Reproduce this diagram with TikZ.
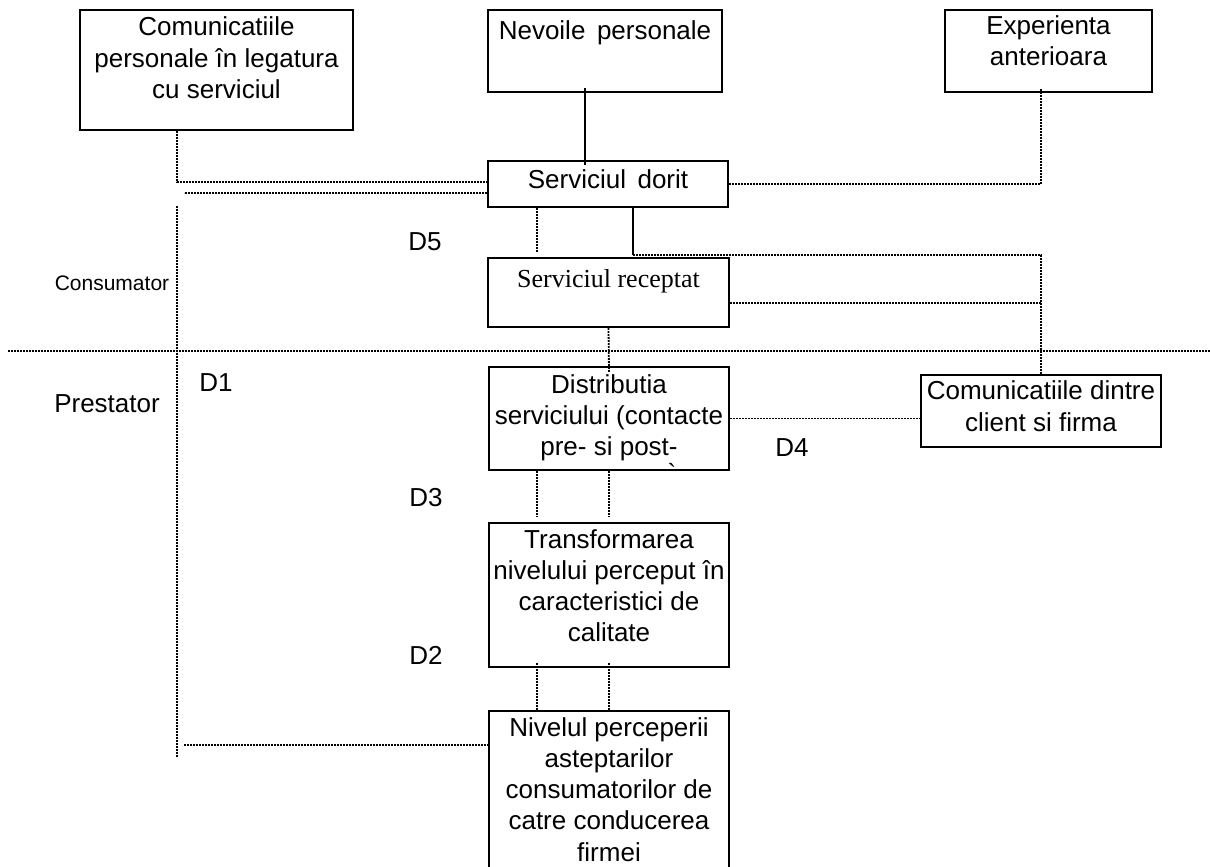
\documentclass[tikz,border=0pt]{standalone}
\usepackage{fontspec}
\setmainfont{Liberation Sans}
\newfontfamily\timesfont{Liberation Serif}
\usetikzlibrary{positioning}
\tikzset{
  box/.style={rectangle,draw=black,line width=1pt,inner sep=0pt,minimum width=#1},
  box/.default={120pt},
  txt/.style={inner sep=0pt,align=center,font=\fontsize{13}{15.6}\selectfont},
  gaplbl/.style={inner sep=0pt,font=\fontsize{13}{15.6}\selectfont},
  dotln/.style={line width=0.9pt,dash pattern=on 0.9pt off 0.6pt},
  solidln/.style={line width=0.75pt},
}

\begin{document}
\begin{tikzpicture}[x=0.5pt,y=-0.5pt]
  \path[use as bounding box,fill=white] (0,0) rectangle (1210,867);
  \clip (0,0) rectangle (1210,867);
  % consumer side
  \node[box=136.5pt,minimum height=60pt] (comm) at (216.5,70) {};
  \node[txt,below=3.8pt of comm.north] (comm-t) {Comunicatiile\\personale în legatura\\cu serviciul};
  \node[box=117pt,minimum height=41pt] (needs) at (605,51) {};
  \node[txt,below=5.5pt of needs.north] (needs-t) {Nevoile\, personale};
  \node[box=103.5pt,minimum height=41pt] (exper) at (1048.5,51) {};
  \node[txt,below=3pt of exper.north] (exper-t) {Experienta\\anterioara};
  \node[box,minimum height=23pt] (desired) at (608,184) {};
  \node[txt,below=4.5pt of desired.north] (desired-t) {Serviciul\, dorit};
  \node[box=120.5pt,minimum height=34.5pt] (perceived) at (608.5,292.5) {};
  \node[txt,font={\timesfont\fontsize{13}{15.6}\selectfont},below=6pt of perceived.north] (perceived-t) {Serviciul receptat};
  % provider side
  \node[box,minimum height=51.5pt] (deliv) at (609,418.5) {};
  \node[txt,below=4pt of deliv.north] (deliv-t) {Distributia\\serviciului (contacte\\pre- si post-};
  \node[gaplbl,anchor=north] (deliv-cut) at (672,463) {\textasciigrave};
  \node[box,minimum height=36pt] (extcomm) at (1041,411) {};
  \node[txt,below=3.3pt of extcomm.north] (extcomm-t) {Comunicatiile dintre\\client si firma};
  \node[box,minimum height=72pt] (transf) at (609,595) {};
  \node[txt,below=3.5pt of transf.north] (transf-t) {Transformarea\\nivelului perceput în\\caracteristici de\\calitate};
  \node[box,minimum height=84.5pt] (mgmt) at (609,795.5) {};
  \node[txt,below=3.5pt of mgmt.north] (mgmt-t) {Nivelul perceperii\\asteptarilor\\consumatorilor de\\catre conducerea\\firmei};
  % gap labels
  \node[gaplbl] (d5) at (425,242) {D5};
  \node[gaplbl] (d1) at (216,383) {D1};
  \node[gaplbl] (d3) at (426,498) {D3};
  \node[gaplbl] (d2) at (426,655) {D2};
  \node[gaplbl] (d4) at (792,448) {D4};
  \node[gaplbl,font=\fontsize{10.5}{12}\selectfont] (cons) at (112,283) {Consumator};
  \node[gaplbl] (prest) at (107,404) {Prestator};
  % helper points
  \coordinate (axtop) at (177,206);
  \coordinate (axbot) at (177,757);
  \coordinate (ax2) at (184,193);
  \coordinate (ax3) at (184,745);
  \coordinate (sepL) at (8,351);
  \coordinate (sepR) at (1210,351);
  \coordinate (knee) at (633,255);
  \coordinate (prR) at ([yshift=-5.25pt]perceived.east);
  % connectors
  \draw[solidln] ([xshift=-10pt,yshift=2.5pt]needs.south) -- ([xshift=-11.5pt,yshift=-2.5pt]desired.north);
  \draw[dotln] ([xshift=-3.75pt,yshift=2pt]exper.south) |- (desired.east);
  \draw[dotln] ([xshift=-19.75pt]comm.south) |- ([yshift=1pt]desired.west);
  \draw[dotln] ([yshift=-4.5pt]desired.west) -- (ax2);
  \draw[dotln] (axtop) -- (axbot);
  \draw[dotln] (ax3) -- (ax3 -| mgmt.west);
  \draw[dotln] (sepL) -- (sepR);
  \draw[dotln] ([xshift=-35.5pt]desired.south) -- ([xshift=-35.75pt,yshift=2.5pt]perceived.north);
  \draw[solidln] ([xshift=12.5pt]desired.south) -- (knee);
  \draw[dotln] (knee) -| (extcomm.north);
  \draw[dotln] (prR) -- (prR -| extcomm.north);
  \draw[dotln] (perceived.south) -- ([yshift=-3pt]deliv.north);
  \draw[dotln] (deliv.east) -- (deliv.east -| extcomm.west);
  \foreach \dx in {-36pt,0pt}{
    \draw[dotln] ([xshift=\dx]deliv.south) -- ([xshift=\dx,yshift=2.5pt]transf.north);
    \draw[dotln] ([xshift=\dx,yshift=2.5pt]transf.south) -- ([xshift=\dx]mgmt.north);
  }
\end{tikzpicture}
\end{document}
